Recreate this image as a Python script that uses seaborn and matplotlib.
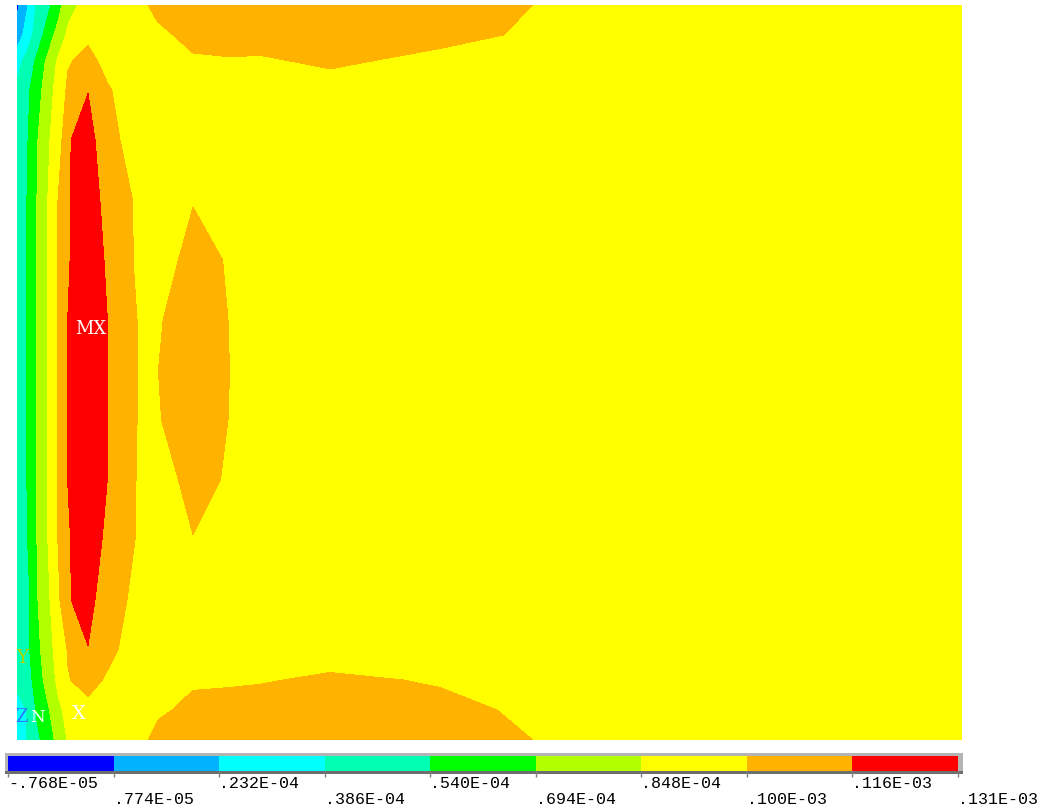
import numpy as np
import matplotlib
matplotlib.use("Agg")
import matplotlib.pyplot as plt
from matplotlib.patches import Rectangle
import seaborn as sns

# ---------------- data ----------------
# contour band limits (UY, in units of 1e-5)
levels = [-0.768, 0.774, 2.32, 3.86, 5.40, 6.94, 8.48, 10.0, 11.6, 13.1]
level_labels = ["-.768E-05", ".774E-05", ".232E-04", ".386E-04", ".540E-04",
                ".694E-04", ".848E-04", ".100E-03", ".116E-03", ".131E-03"]
band_colors = ["#0000FF", "#00B2FF", "#00FFFF", "#00FFB2", "#00FF00",
               "#B2FF00", "#FFFF00", "#FFB200", "#FF0000"]

# node coordinates of the sampled field (model units)
x_nodes = [17, 27, 37, 48, 58, 68, 88, 108, 138, 158, 193, 230, 260, 330, 440, 535, 962]
y_nodes = [5, 35, 62, 90, 140, 202, 260, 320, 371, 420, 480, 540, 600, 650, 680, 710, 740]

# field values, one row per y node
row_y005 = [0.4, 2.15, 4.04, 5.04, 6.24, 8.0, 9.0, 9.3, 9.8, 10.2, 10.4, 10.4, 10.4, 10.4, 10.4, 9.99, 9.2]
row_y035 = [1.4, 2.98, 4.57, 6.08, 7.53, 8.72, 9.75, 9.4, 9.5, 9.85, 10.2, 10.3, 10.3, 10.3, 10.2, 9.9, 9.2]
row_y062 = [3.3, 4.45, 5.71, 7.36, 8.7, 9.9, 10.4, 9.6, 9.4, 9.6, 9.9, 9.93, 9.9, 10.1, 9.8, 9.5, 9.2]
row_y090 = [4.1, 5.02, 6.30, 7.78, 9.06, 10.25, 11.55, 10.1, 9.3, 9.4, 9.5, 9.5, 9.5, 9.7, 9.5, 9.3, 9.2]
row_y140 = [4.0, 5.24, 6.80, 8.35, 9.01, 11.49, 12.2, 10.5, 9.25, 9.3, 9.5, 9.4, 9.3, 9.3, 9.3, 9.3, 9.2]
row_y202 = [4.1, 5.42, 6.96, 8.5, 10.02, 11.45, 12.6, 10.93, 9.81, 9.6, 9.98, 9.6, 9.3, 9.2, 9.2, 9.2, 9.2]
row_y260 = [4.1, 5.42, 6.96, 8.5, 10.02, 11.45, 12.9, 11.27, 9.75, 9.72, 10.2, 9.95, 9.4, 9.2, 9.2, 9.2, 9.2]
row_y320 = [4.1, 5.42, 7.07, 8.5, 10.15, 11.62, 13.1, 11.55, 9.95, 9.94, 10.35, 9.98, 9.4, 9.2, 9.2, 9.2, 9.2]
row_y371 = [4.1, 5.42, 7.07, 8.5, 10.15, 11.62, 13.0, 11.53, 9.97, 9.995, 10.4, 9.995, 9.3, 9.2, 9.2, 9.2, 9.2]
row_y420 = [4.1, 5.42, 7.07, 8.5, 10.15, 11.62, 12.95, 11.58, 9.95, 9.96, 10.35, 9.98, 9.4, 9.2, 9.2, 9.2, 9.2]
row_y480 = [4.1, 5.42, 7.07, 8.5, 10.15, 11.62, 12.9, 11.55, 9.89, 9.72, 10.2, 9.93, 9.4, 9.2, 9.2, 9.2, 9.2]
row_y540 = [4.1, 5.3, 6.95, 8.5, 10.02, 11.45, 12.6, 11.17, 9.87, 9.6, 9.98, 9.6, 9.3, 9.2, 9.2, 9.2, 9.2]
row_y600 = [4.0, 4.79, 6.82, 8.19, 9.63, 11.5, 12.1, 10.67, 9.61, 9.4, 9.4, 9.4, 9.3, 9.5, 9.3, 9.2, 9.2]
row_y650 = [4.0, 5.0, 6.48, 7.89, 9.02, 10.1, 11.55, 10.35, 9.3, 9.3, 9.3, 9.35, 9.5, 9.7, 9.5, 9.3, 9.2]
row_y680 = [4.1, 4.7, 6.1, 7.58, 8.78, 9.92, 10.5, 9.8, 9.4, 9.5, 9.92, 9.9, 9.95, 10.1, 9.95, 9.6, 9.2]
row_y710 = [3.5, 3.9, 5.6, 6.74, 8.17, 8.9, 9.6, 9.5, 9.5, 9.9, 10.15, 10.3, 10.3, 10.3, 10.15, 9.9, 9.2]
row_y740 = [3.0, 3.9, 5.04, 6.22, 7.36, 8.6, 9.3, 9.4, 9.8, 10.2, 10.4, 10.4, 10.4, 10.4, 10.4, 9.99, 9.2]

rows = [row_y005, row_y035, row_y062, row_y090, row_y140, row_y202, row_y260,
        row_y320, row_y371, row_y420, row_y480, row_y540, row_y600, row_y650,
        row_y680, row_y710, row_y740]

# ---------------- style ----------------
sns.set_theme(style="white")
plt.rcParams["font.family"] = ["DejaVu Sans"]

palette = sns.color_palette(band_colors)

W, H = 1055, 811
fig = plt.figure(figsize=(W / 100, H / 100), dpi=100)
fig.patch.set_facecolor("white")

# main contour plot
ax = fig.add_axes([17 / W, 1 - 740 / H, 945 / W, 735 / H])
X, Y = np.meshgrid(np.array(x_nodes, float), np.array(y_nodes, float))
Z = np.array(rows, float)
cf = ax.contourf(X, Y, Z, levels=levels, colors=palette, antialiased=False)
ax.set_xlim(x_nodes[0], x_nodes[-1])
ax.set_ylim(y_nodes[-1], y_nodes[0])
ax.axis("off")

# MX marker at the maximum
iy, ix = np.unravel_index(np.argmax(Z), Z.shape)
ax.annotate("MX", xy=(x_nodes[ix], y_nodes[iy]), xytext=(3, -9),
            textcoords="offset pixels", ha="center", va="center",
            color="white", fontsize=13, family="DejaVu Serif")

# triad labels
fig.text(22 / W, 1 - 658 / H, "Y", color="#B4D200", fontsize=13,
         family="DejaVu Serif", ha="center", va="center")
fig.text(22 / W, 1 - 717 / H, "Z", color="#2A7BFF", fontsize=13,
         family="DejaVu Serif", ha="center", va="center")
fig.text(37 / W, 1 - 718 / H, "N", color="white", fontsize=12,
         family="DejaVu Serif", ha="center", va="center")
fig.text(79 / W, 1 - 714 / H, "X", color="white", fontsize=14,
         family="DejaVu Serif", ha="center", va="center")

# colorbar frame (drawn behind the colorbar axes)
fig.patches.append(Rectangle((5 / W, 1 - 773 / H), 958 / W, 20 / H,
                             transform=fig.transFigure, facecolor="#B4B4B4",
                             edgecolor="none", zorder=-2))
fig.patches.append(Rectangle((5 / W, 1 - 773.5 / H), 958 / W, 3 / H,
                             transform=fig.transFigure, facecolor="#6E6E6E",
                             edgecolor="none", zorder=-1))

cax = fig.add_axes([8 / W, 1 - 771 / H, 950 / W, 15 / H])
cax.set_zorder(3)
cb = fig.colorbar(cf, cax=cax, orientation="horizontal", ticks=levels)
cb.outline.set_visible(False)
cax.set_xticklabels([])
cax.tick_params(axis="x", direction="out", length=4, width=1,
                color="#7F7F7F", bottom=True, top=False, pad=0)

for i, (lv, lab) in enumerate(zip(levels, level_labels)):
    dy = -13 if i % 2 == 0 else -29
    cax.annotate(lab, xy=(lv, 0), xycoords=("data", "axes fraction"),
                 xytext=(0, dy), textcoords="offset pixels",
                 ha="left", va="center", fontsize=12,
                 family="Liberation Mono", color="black",
                 annotation_clip=False)

fig.savefig("out.png", dpi=100, facecolor="white")
